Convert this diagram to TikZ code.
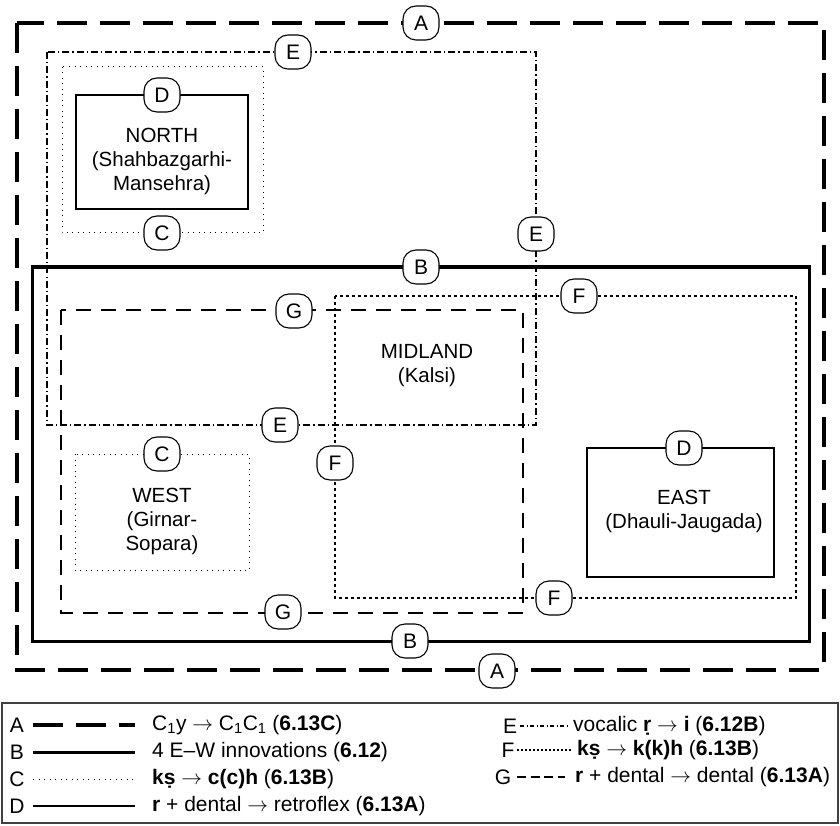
\documentclass[tikz,border=0pt]{standalone}
\usepackage{fontspec}
\setmainfont{Liberation Sans}
\begin{document}
\begin{tikzpicture}[x=1pt,y=-1pt,
  lab/.style={draw, line width=1.1pt, fill=white, rounded corners=13pt,
    minimum width=36pt, minimum height=34pt, inner sep=0pt,
    font=\fontsize{21}{21}\selectfont},
  region/.style={align=center, font=\fontsize{20.5}{24}\selectfont},
  lineA/.style={line width=3.2pt, dash pattern=on 30pt off 13pt},
  lineB/.style={line width=3pt},
  lineC/.style={line width=1pt, dash pattern=on 1pt off 4.5pt},
  lineD/.style={line width=1.2pt},
  lineE/.style={line width=1.3pt, dash pattern=on 7pt off 3pt on 1.3pt off 3pt},
  lineF/.style={line width=1.7pt, dash pattern=on 3pt off 3pt},
  lineG/.style={line width=1.7pt, dash pattern=on 15pt off 10pt},
  leg/.style={font=\fontsize{21}{22}\selectfont, inner sep=0pt},
]
\useasboundingbox (0,0) rectangle (840,826);

% region boxes
\draw[lineA] (17,23) rectangle (824,670);
\draw[lineE] (47,52) rectangle (536,425);
\draw[lineC] (62,67) rectangle (263,233);
\draw[lineD] (76,95) rectangle (248,209);
\draw[lineB] (32,267) rectangle (809,641);
\draw[lineF] (335,296) rectangle (796,598);
\draw[lineG] (61,310) rectangle (523,613);
\draw[lineC] (75,454) rectangle (249,570);
\draw[lineD] (587,448) rectangle (774,577);

% region names
\node[region] (north) at (162,161) {NORTH\\(Shahbazgarhi-\\Mansehra)};
\node[region] (midland) at (427,366) {MIDLAND\\(Kalsi)};
\node[region] (west) at (162,521) {WEST\\(Girnar-\\Sopara)};
\node[region] (east) at (684,511) {EAST\\(Dhauli-Jaugada)};

% labels on boundaries
\node[lab] (a1) at (421,23) {A};
\node[lab] (a2) at (497,671) {A};
\node[lab] (b1) at (421,267) {B};
\node[lab] (b2) at (410,641) {B};
\node[lab] (c1) at (162,233) {C};
\node[lab] (c2) at (162,454) {C};
\node[lab] (d1) at (162,95) {D};
\node[lab] (d2) at (684,448) {D};
\node[lab] (e1) at (293,52) {E};
\node[lab] (e2) at (536,234) {E};
\node[lab] (e3) at (280,425) {E};
\node[lab] (f1) at (579,296) {F};
\node[lab] (f2) at (335,463) {F};
\node[lab] (f3) at (554,598) {F};
\node[lab] (g1) at (294,311) {G};
\node[lab] (g2) at (283,612) {G};

% legend
\draw[line width=1.3pt, draw=black!75] (2,703) rectangle (838,823);

\node[leg] (la) at (17,725) {A};
\node[leg] (lb) at (17,752) {B};
\node[leg] (lc) at (17,779) {C};
\node[leg] (ld) at (17,806) {D};
\draw[lineA] (33,725) -- (135,725);
\draw[lineB] (33,752) -- (135,752);
\draw[lineC] (33,779) -- (135,779);
\draw[lineD] (33,806) -- (135,806);
\node[leg, anchor=west] (ta) at (152,725) {C\textsubscript{1}y $\rightarrow$ C\textsubscript{1}C\textsubscript{1} (\textbf{6.13C})};
\node[leg, anchor=west] (tb) at (152,752) {4 E–W innovations (\textbf{6.12})};
\node[leg, anchor=west] (tc) at (152,779) {\textbf{kṣ} $\rightarrow$ \textbf{c(c)h} (\textbf{6.13B})};
\node[leg, anchor=west] (td) at (152,806) {\textbf{r} + dental $\rightarrow$ retroflex (\textbf{6.13A})};

\node[leg] (le) at (510,726) {E};
\node[leg] (lf) at (508,750) {F};
\node[leg] (lg) at (503,777) {G};
\draw[line width=1.1pt, dash pattern=on 4pt off 2.5pt on 1pt off 2.5pt] (520,726) -- (568,726);
\draw[line width=1.3pt, dash pattern=on 2pt off 2pt] (517,750) -- (572,750);
\draw[line width=1.5pt, dash pattern=on 9pt off 4.5pt] (517,777) -- (565,777);
\node[leg, anchor=west] (te) at (573,726) {vocalic \textbf{ṛ} $\rightarrow$ \textbf{i} (\textbf{6.12B})};
\node[leg, anchor=west] (tf) at (577,750) {\textbf{kṣ} $\rightarrow$ \textbf{k(k)h} (\textbf{6.13B})};
\node[leg, anchor=west] (tg) at (575,777) {\textbf{r} + dental $\rightarrow$ dental (\textbf{6.13A})};
\end{tikzpicture}
\end{document}
